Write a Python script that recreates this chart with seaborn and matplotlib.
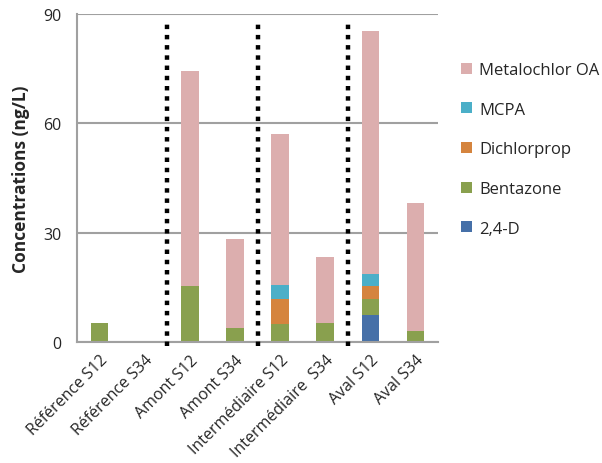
import numpy as np
import pandas as pd
import matplotlib
matplotlib.use("Agg")
import matplotlib.pyplot as plt
import seaborn as sns

# data
sites = ["Référence S12", "Référence S34", "Amont S12", "Amont S34",
         "Intermédiaire S12", "Intermédiaire  S34", "Aval S12", "Aval S34"]
d24 = [0, 0, 0, 0, 0, 0, 7.4, 0]
bentazone = [5.2, 0, 15.4, 3.9, 4.9, 5.1, 4.4, 3.0]
dichlorprop = [0, 0, 0, 0, 6.9, 0, 3.7, 0]
mcpa = [0, 0, 0, 0, 3.9, 0, 3.2, 0]
metalochlor = [0, 0, 58.9, 24.4, 41.3, 18.3, 66.6, 35.1]

series = ["2,4-D", "Bentazone", "Dichlorprop", "MCPA", "Metalochlor OA"]
colors = ["#4670A8", "#89A04E", "#D5843E", "#4BAFC8", "#DCAEAE"]

sns.set_style("white")
plt.rcParams["font.family"] = ["Open Sans", "DejaVu Sans"]

fig = plt.figure(figsize=(6.02, 4.64), dpi=100)
ax = fig.add_axes([77 / 602, 1 - 343 / 464, 361 / 602, 328 / 464])

# stacked bars, one seaborn call per compound
bottom = np.zeros(len(sites))
for name, vals, col in zip(series, [d24, bentazone, dichlorprop, mcpa, metalochlor], colors):
    df = pd.DataFrame({"site": sites, "conc": vals})
    sns.barplot(data=df, x="site", y="conc", color=col, width=0.39,
                bottom=bottom, label=name, linewidth=0, saturation=1, ax=ax)
    bottom = bottom + np.array(vals)

ax.set_xlim(-0.5, len(sites) - 0.5)
ax.set_ylim(0, 90)
ax.set_yticks([0, 30, 60, 90])
ax.yaxis.grid(True, color="#A0A0A0", lw=1.5)
ax.set_axisbelow(True)
for s in ["top", "right"]:
    ax.spines[s].set_visible(False)
for s in ["left", "bottom"]:
    ax.spines[s].set_color("#A0A0A0")
    ax.spines[s].set_linewidth(1.5)

# excel-like ticks between categories
ax.set_xticks(np.arange(-0.5, len(sites)), minor=True)
ax.tick_params(axis="x", which="minor", length=5, width=1.2, color="#A0A0A0", direction="out")
ax.tick_params(axis="x", which="major", length=0, pad=7)
ax.tick_params(axis="y", length=5, width=1.2, color="#A0A0A0", direction="out", pad=6,
               labelsize=11.5, labelcolor="#262626")
ax.set_xticks(range(len(sites)))
ax.set_xticklabels(sites, rotation=45, ha="right", rotation_mode="anchor",
                   fontsize=11.5, color="#262626")

ax.set_xlabel("")
ax.set_ylabel("Concentrations (ng/L)", fontsize=12.5, fontweight="bold", labelpad=10)

# dotted separators between site groups
for xpos in [1.5, 3.5, 5.5]:
    ax.plot([xpos, xpos], [-1, 88.5], color="black", lw=3.2,
            linestyle=(0, (1, 1.3)), clip_on=False, zorder=5)

handles, labels = ax.get_legend_handles_labels()
if ax.get_legend() is not None:
    ax.get_legend().remove()
fig.legend(handles[::-1], labels[::-1], loc="upper left",
           bbox_to_anchor=(461 / 602, 1 - 63 / 464), frameon=False,
           fontsize=12, handlelength=0.65, handleheight=0.65, handletextpad=0.45,
           labelspacing=1.42, borderpad=0, borderaxespad=0)

fig.savefig("out.png", dpi=100)
